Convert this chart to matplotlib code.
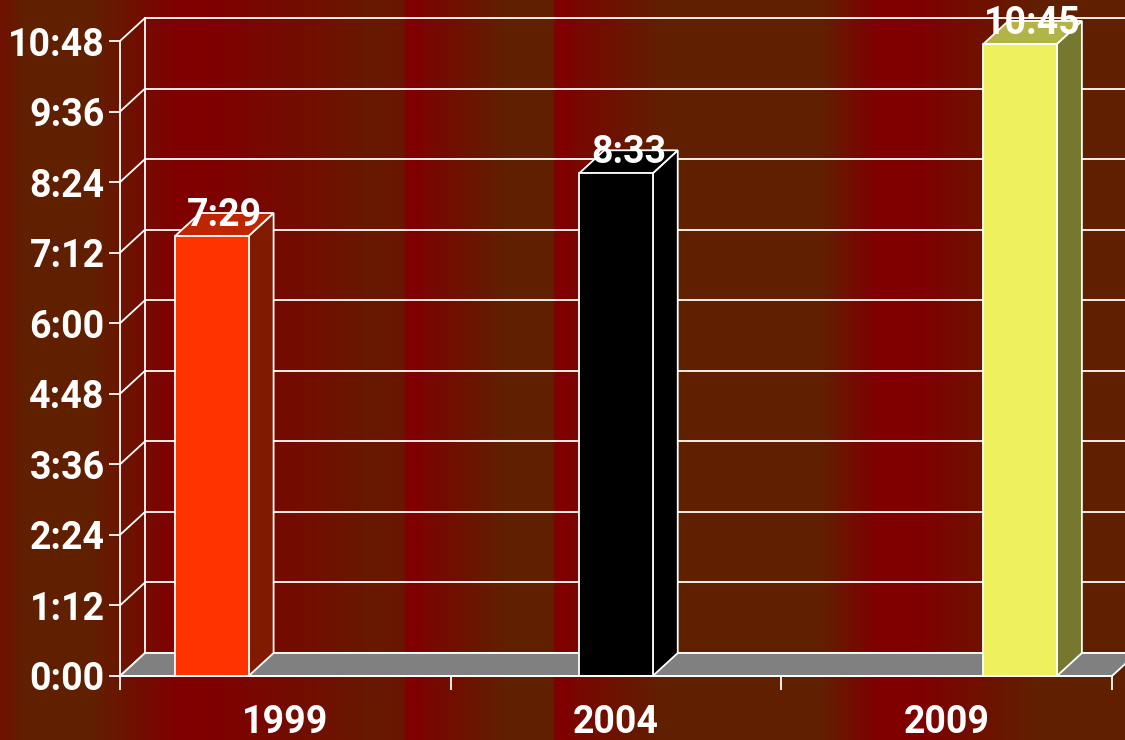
import numpy as np
import matplotlib.pyplot as plt
from matplotlib.patches import Polygon, Rectangle
from matplotlib.ticker import FuncFormatter, MultipleLocator

# data
categories = ['1999', '2004', '2009']
time_labels = ['7:29', '8:33', '10:45']
bar_colors = ['#FF3300', '#000000', '#EEF05E']
minutes = [int(s.split(':')[0]) * 60 + int(s.split(':')[1]) for s in time_labels]

ymax = 648      # 10:48
ystep = 72      # 1:12

plt.rcParams['font.family'] = ['Roboto', 'DejaVu Sans']
plt.rcParams['font.weight'] = 'bold'

W, H = 1125, 740
fig = plt.figure(figsize=(W / 100, H / 100), dpi=100)

# striped background (vertical bands between brown and dark red)
bg = fig.add_axes([0, 0, 1, 1], zorder=-10)
band_x = [0, 25, 90, 178, 210, 370, 404, 406, 419, 421, 508, 553, 555, 567, 569, 665, 820, 877, 917, 1040, 1125]
band_t = [0.5, 0, 0, 1, 1, 0.25, 0.3, 1, 1, 0.85, 0, 0, 1, 1, 0.85, 0, 0, 1, 1, 0, 0]
t = np.interp(np.arange(W) + 0.5, band_x, band_t)
brown = np.array([96, 32, 0]) / 255
red = np.array([128, 0, 0]) / 255
img = brown[None, :] * (1 - t[:, None]) + red[None, :] * t[:, None]
bg.imshow(img[None, :, :], aspect='auto', extent=[0, 1, 0, 1], interpolation='nearest')
bg.axis('off')

# main axes = front plane of the 3D box
ax = fig.add_axes([120 / W, 64 / H, 992 / W, 635 / H])
ax.set_facecolor('none')
ax.set_xlim(0, 3)
ax.set_ylim(0, ymax)

# depth offset in data units (25 px right, 23 px up)
dx = 25 / 992 * 3
dy = 23 / 635 * ymax
lw = 1.3

# floor
floor = Polygon([(0, 0), (3, 0), (3 + dx, dy), (dx, dy)], closed=True,
                facecolor='#808080', edgecolor='white', linewidth=lw,
                clip_on=False, zorder=2)
ax.add_patch(floor)

# walls and gridlines
for y in np.arange(0, ymax + 1, ystep):
    ax.plot([0, dx], [y, y + dy], color='white', lw=lw, clip_on=False, zorder=1)
    ax.plot([dx, 3 + 2 * dx], [y + dy, y + dy], color='white', lw=lw, clip_on=False, zorder=1)
ax.plot([dx, dx], [dy, ymax + dy], color='white', lw=lw, clip_on=False, zorder=1)

# 3D bars
w = 1 / 4.5
for i, (v, c, lab) in enumerate(zip(minutes, bar_colors, time_labels)):
    rgb = np.array(plt.matplotlib.colors.to_rgb(c))
    x0 = i + 0.5 + (i - 1) * w - w / 2
    side = Polygon([(x0 + w, 0), (x0 + w + dx, dy), (x0 + w + dx, v + dy), (x0 + w, v)],
                   closed=True, facecolor=rgb * 0.5, edgecolor='white', linewidth=lw,
                   clip_on=False, zorder=3)
    top = Polygon([(x0, v), (x0 + w, v), (x0 + w + dx, v + dy), (x0 + dx, v + dy)],
                  closed=True, facecolor=rgb * 0.75, edgecolor='white', linewidth=lw,
                  clip_on=False, zorder=3)
    front = Rectangle((x0, 0), w, v, facecolor=rgb, edgecolor='white', linewidth=lw,
                      clip_on=False, zorder=4)
    ax.add_patch(side)
    ax.add_patch(top)
    ax.add_patch(front)
    ax.text(x0 + w / 2 + dx / 2, v + dy * 0.9, lab, ha='center', va='center',
            color='white', fontsize=27, fontweight='bold', zorder=6, clip_on=False)

# axes styling
for s in ['top', 'right']:
    ax.spines[s].set_visible(False)
for s in ['left', 'bottom']:
    ax.spines[s].set_color('white')
    ax.spines[s].set_linewidth(lw)
    ax.spines[s].set_zorder(5)

ax.yaxis.set_major_locator(MultipleLocator(ystep))
ax.yaxis.set_major_formatter(FuncFormatter(lambda v, p: f'{int(v) // 60}:{int(v) % 60:02d}'))
ax.tick_params(axis='y', colors='white', length=8, width=lw, labelsize=27, pad=3)

ax.set_xticks([0, 1, 2, 3])
ax.set_xticklabels([])
ax.set_xticks([0.5, 1.5, 2.5], minor=True)
ax.set_xticklabels(categories, minor=True)
ax.tick_params(axis='x', which='major', colors='white', length=10, width=lw)
ax.tick_params(axis='x', which='minor', colors='white', length=0, labelsize=27, pad=20)

fig.savefig('out.png', dpi=100)
